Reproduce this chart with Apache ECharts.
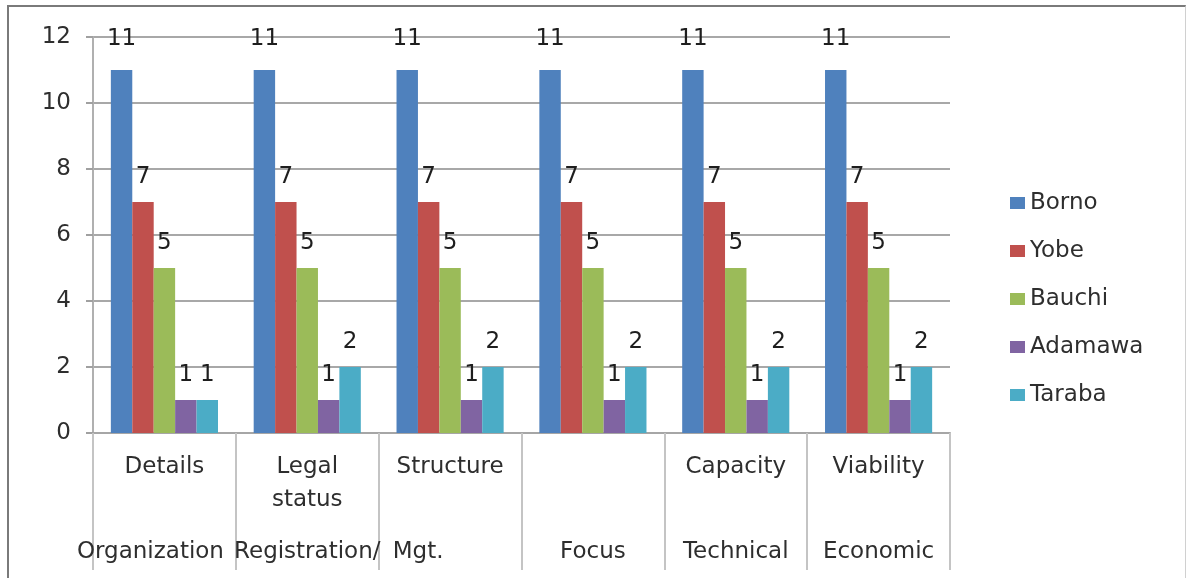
<!DOCTYPE html>
<html>
<head>
<meta charset="utf-8">
<script src="https://cdn.jsdelivr.net/npm/echarts@6/dist/echarts.min.js"></script>
<style>
  html, body { margin: 0; padding: 0; background: #fff; }
  #chart { position: absolute; left: 0; top: 0; width: 1187px; height: 578px; }
  #frame {
    position: absolute; left: 7px; top: 5px; width: 1176px; height: 580px;
    border-left: 2px solid #7a7a7a; border-top: 2px solid #7a7a7a; border-right: 1px solid #d0d0d0;
    pointer-events: none;
  }
</style>
</head>
<body>
<div id="chart"></div>
<div id="frame"></div>
<script>
// Sub-criteria (upper label row) and main criteria (lower label row)
const subCriteria = ['Details', 'Legal\nstatus', 'Structure', '', 'Capacity', 'Viability'];
const mainCriteria = ['Organization', 'Registration/', 'Mgt.', 'Focus', 'Technical', 'Economic'];

// Counts per state
const borno   = [11, 11, 11, 11, 11, 11];
const yobe    = [7, 7, 7, 7, 7, 7];
const bauchi  = [5, 5, 5, 5, 5, 5];
const adamawa = [1, 1, 1, 1, 1, 1];
const taraba  = [1, 2, 2, 2, 2, 2];

const stateNames = ['Borno', 'Yobe', 'Bauchi', 'Adamawa', 'Taraba'];
const stateColors = ['#4F81BD', '#C0504D', '#9BBB59', '#8064A2', '#4BACC6'];
const stateValues = [borno, yobe, bauchi, adamawa, taraba];

const FONT = 'DejaVu Sans';
const TEXT = '#2e2e2e';
const categories = subCriteria.map((s, i) => i);

const chart = echarts.init(document.getElementById('chart'), null, { renderer: 'canvas' });

chart.setOption({
  animation: false,
  textStyle: { fontFamily: FONT },
  grid: { left: 93, right: 237, top: 37, bottom: 145, containLabel: false },
  legend: {
    orient: 'vertical',
    left: 1005,
    top: 185,
    icon: 'rect',
    itemWidth: 15,
    itemHeight: 12,
    itemGap: 22,
    textStyle: { fontFamily: FONT, fontSize: 23, color: TEXT, lineHeight: 26 },
    data: stateNames
  },
  xAxis: {
    type: 'category',
    data: categories,
    axisLine: { show: true, lineStyle: { color: '#a6a6a6', width: 2 } },
    axisTick: { show: true, interval: 0, length: 137, lineStyle: { color: '#c4c4c4', width: 2 } },
    axisLabel: {
      interval: 0,
      margin: 18,
      formatter: function (v) {
        const i = Number(v);
        const top = subCriteria[i].split('\n');
        const l1 = top[0] ? '{t|' + top[0] + '}' : '{t| }';
        const l2 = top[1] ? '{t|' + top[1] + '}' : '{t| }';
        const style = i === 2 ? 'bm' : (i === 0 ? 'bo' : 'b');
        return l1 + '\n' + l2 + '\n{' + style + '|' + mainCriteria[i] + '}';
      },
      rich: {
        t: { fontFamily: FONT, fontSize: 23, color: TEXT, lineHeight: 33 },
        b: { fontFamily: FONT, fontSize: 23, color: TEXT, lineHeight: 70 },
        bm: { fontFamily: FONT, fontSize: 23, color: TEXT, lineHeight: 70, padding: [0, 64, 0, 0] },
        bo: { fontFamily: FONT, fontSize: 23, color: TEXT, lineHeight: 70, padding: [0, 28, 0, 0] }
      }
    }
  },
  yAxis: {
    type: 'value',
    min: 0,
    max: 12,
    interval: 2,
    axisLine: { show: true, lineStyle: { color: '#b0b0b0', width: 2 } },
    axisTick: { show: true, length: 7, lineStyle: { color: '#a0a0a0', width: 2 } },
    splitLine: { show: true, lineStyle: { color: '#a8a8a8', width: 2 } },
    axisLabel: { margin: 22, fontFamily: FONT, fontSize: 23, color: TEXT }
  },
  series: stateNames.map((name, k) => ({
    name: name,
    type: 'bar',
    data: stateValues[k],
    barGap: '0%',
    barCategoryGap: '25%',
    itemStyle: { color: stateColors[k] },
    label: {
      show: true,
      position: 'top',
      distance: k === 0 ? 19 : 13,
      fontFamily: FONT,
      fontSize: 23,
      color: '#1e1e1e'
    }
  }))
});
</script>
</body>
</html>
